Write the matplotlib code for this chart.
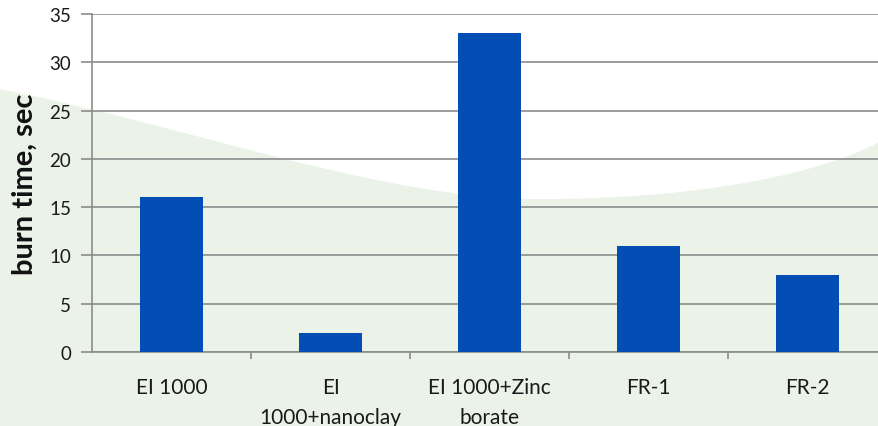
import matplotlib.pyplot as plt
from matplotlib.patches import PathPatch
from matplotlib.path import Path
import numpy as np

categories = ["EI 1000", "EI\n1000+nanoclay", "EI 1000+Zinc\nborate", "FR-1", "FR-2"]
burn_time = [16, 2, 33, 11, 8]

W, H = 879, 427
fig = plt.figure(figsize=(W / 100, H / 100), dpi=100)
fig.patch.set_facecolor("white")

# pale green swoosh of the slide background (pixel coords, y down)
swoosh = [(0, 90), (200, 130), (380, 200), (540, 200),
          (700, 200), (820, 175), (879, 143),
          (879, 427), (0, 427), (0, 90)]
codes = [Path.MOVETO, Path.CURVE4, Path.CURVE4, Path.CURVE4,
         Path.CURVE4, Path.CURVE4, Path.CURVE4,
         Path.LINETO, Path.LINETO, Path.CLOSEPOLY]
verts = [(px / W, 1 - py / H) for px, py in swoosh]
fig.patches.append(PathPatch(Path(verts, codes), transform=fig.transFigure,
                             facecolor="#ebf3e8", edgecolor="none", zorder=-10))

ax = fig.add_axes([92 / W, 1 - 353 / H, 795 / W, 338 / H])
ax.set_facecolor("none")

x = np.arange(len(categories))
ax.bar(x, burn_time, width=0.4, color="#024eb4", zorder=3)

ax.set_xlim(-0.5, len(categories) - 0.5)
ax.set_ylim(0, 35)
ax.set_yticks(range(0, 36, 5))
ax.grid(axis="y", color="#8c8c8c", linewidth=1.2, zorder=0)

ax.set_xticks(x)
ax.set_xticklabels(categories, fontsize=15, family="Lato", linespacing=1.65,
                   color="#1a1a1a")
ax.set_xticks(x[:-1] + 0.5, minor=True)
ax.tick_params(axis="x", which="major", length=0, pad=18)
ax.tick_params(axis="x", which="minor", length=5, width=1.2, color="#8c8c8c")
ax.tick_params(axis="y", length=8, width=1.2, color="#8c8c8c", pad=7,
               labelsize=13.5, labelcolor="#1a1a1a")
for lab in ax.get_yticklabels():
    lab.set_family("Lato")

for s in ["top", "right"]:
    ax.spines[s].set_visible(False)
for s in ["left", "bottom"]:
    ax.spines[s].set_color("#8c8c8c")
    ax.spines[s].set_linewidth(1.2)

ax.set_ylabel("burn time, sec", fontsize=21, fontweight="bold", family="Lato",
              labelpad=8, color="#111111")

fig.savefig("out.png", dpi=100)
